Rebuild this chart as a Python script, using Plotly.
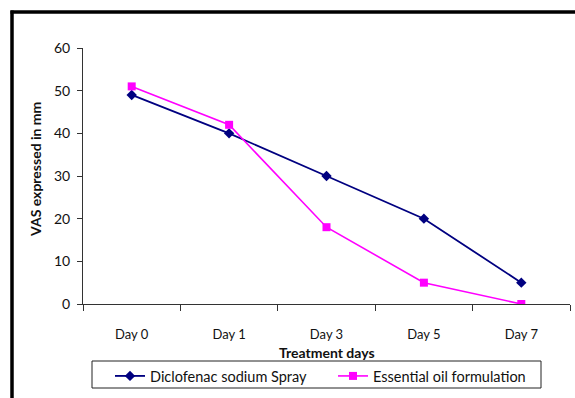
import plotly.graph_objects as go

categories = ["Day 0", "Day 1", "Day 3", "Day 5", "Day 7"]
diclofenac = [49, 40, 30, 20, 5]
essential_oil = [51, 42, 18, 5, 0]
series_names = ["Diclofenac sodium Spray", "Essential oil formulation"]
y_ticks = [0, 10, 20, 30, 40, 50, 60]

W, H = 575, 398
L, R, T, B = 83, 5, 48, 94
pw, ph = W - L - R, H - T - B

def px(x):
    return (x - L) / pw

def py(y):
    return (H - B - y) / ph

FONT = "Lato, 'DejaVu Sans', sans-serif"

fig = go.Figure()
fig.add_trace(go.Scatter(
    x=categories, y=diclofenac, name=series_names[0], mode="lines+markers",
    line=dict(color="#000080", width=1.8),
    marker=dict(symbol="diamond", size=8, color="#000080"),
))
fig.add_trace(go.Scatter(
    x=categories, y=essential_oil, name=series_names[1], mode="lines+markers",
    line=dict(color="#FF00FF", width=1.6),
    marker=dict(symbol="square", size=8, color="#FF00FF"),
))

fig.update_layout(
    width=W, height=H,
    margin=dict(l=L, r=R, t=T, b=B, pad=0),
    paper_bgcolor="white", plot_bgcolor="white",
    font=dict(family=FONT, size=13, color="#111111"),
    showlegend=True,
    legend=dict(
        orientation="h", x=px(110), y=py(360), xanchor="left", yanchor="top",
        borderwidth=0, bgcolor="rgba(0,0,0,0)",
        font=dict(size=14.5, color="#111111"),
        entrywidth=178, entrywidthmode="pixels", tracegroupgap=0,
    ),
    xaxis=dict(
        type="category", range=[-0.5, 4.5], tickson="boundaries",
        ticks="outside", ticklen=6, tickcolor="#333333",
        showline=True, linecolor="#333333", linewidth=1,
        showgrid=False, zeroline=False, ticklabelstandoff=18,
        tickfont=dict(size=13),
    ),
    yaxis=dict(
        range=[0, 60], tickvals=y_ticks, ticks="outside", ticklen=5,
        tickcolor="#333333", showline=True, linecolor="#333333", linewidth=1,
        showgrid=False, zeroline=False, tickfont=dict(size=14), ticklabelstandoff=4,
    ),
    annotations=[
        dict(text="<b>Treatment days</b>", xref="paper", yref="paper",
             x=0.5, y=py(352), xanchor="center", yanchor="middle",
             showarrow=False, font=dict(size=14)),
        dict(text="<b>VAS expressed in mm</b>", xref="paper", yref="paper",
             x=px(35), y=py(170), xanchor="center", yanchor="middle",
             textangle=-90, showarrow=False, font=dict(size=14)),
    ],
    shapes=[
        dict(type="line", xref="paper", yref="paper",
             x0=px(12), x1=px(12), y0=py(10.5), y1=py(420),
             line=dict(color="black", width=3.5)),
        dict(type="line", xref="paper", yref="paper",
             x0=px(10.5), x1=px(600), y0=py(12), y1=py(12),
             line=dict(color="black", width=3.5)),
        dict(type="rect", xref="paper", yref="paper",
             x0=px(92), x1=px(541), y0=py(361), y1=py(388),
             line=dict(color="#222222", width=1)),
    ],
)

fig.write_html("out.html")
